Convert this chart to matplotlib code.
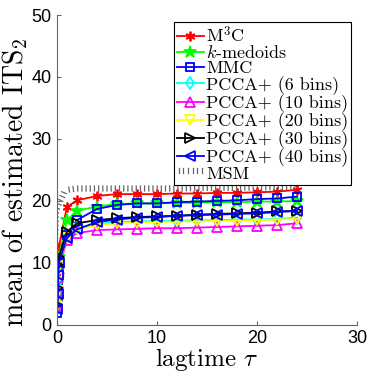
#!/usr/bin/env python3

"""
<file>    plot.py
<brief>   mean of estimated ITS_2 vs lagtime
"""

import matplotlib
matplotlib.use("Agg")
import matplotlib.pyplot as plt
import matplotlib.patheffects as pe

plt.rcParams['mathtext.fontset'] = 'cm'

lagtimes = [0.05, 0.1, 0.15, 0.2, 1, 2, 4, 6, 8, 10, 12, 14, 16, 18, 20, 22, 24]

m3c = [4.5, 8.0, 10.5, 12.6, 19.0, 20.1, 20.8, 21.1, 21.1, 21.1, 21.2, 21.2, 21.3, 21.3, 21.4, 21.5, 21.8]
kmedoids = [4.0, 7.5, 9.5, 11.0, 16.9, 18.4, 19.1, 19.5, 19.6, 19.6, 19.7, 19.7, 19.8, 19.8, 19.9, 19.9, 20.0]
mmc = [2.0, 4.5, 7.3, 9.5, 14.5, 16.9, 18.7, 19.35, 19.6, 19.6, 19.8, 19.9, 20.0, 20.1, 20.3, 20.4, 20.7]
pcca6 = [2.5, 5.0, 7.0, 9.0, 14.0, 15.6, 16.3, 16.6, 16.7, 16.8, 16.8, 16.9, 16.9, 17.0, 17.0, 17.1, 17.3]
pcca10 = [3.0, 5.5, 7.8, 9.0, 13.7, 14.8, 15.3, 15.4, 15.5, 15.6, 15.6, 15.7, 15.8, 15.9, 16.0, 16.1, 16.4]
pcca20 = [3.0, 5.5, 7.5, 9.5, 14.0, 15.4, 16.1, 16.4, 16.5, 16.6, 16.7, 16.7, 16.8, 16.8, 16.9, 17.0, 17.1]
pcca30 = [3.2, 6.0, 9.7, 11.0, 15.0, 16.4, 16.9, 17.2, 17.4, 17.5, 17.6, 17.8, 17.9, 18.0, 18.1, 18.3, 18.4]
pcca40 = [2.5, 5.0, 8.0, 10.0, 14.0, 15.4, 16.6, 17.0, 17.3, 17.4, 17.6, 17.7, 17.8, 17.9, 18.0, 18.2, 18.4]
msm = [13.0, 15.5, 17.5, 18.5, 21.4, 21.6, 21.6, 21.6, 21.6, 21.6, 21.6, 21.7, 21.7, 21.7, 21.8, 21.8, 21.9]

labels = ['M$^3$C', '$k$-medoids', 'MMC', 'PCCA+ (6 bins)', 'PCCA+ (10 bins)',
          'PCCA+ (20 bins)', 'PCCA+ (30 bins)', 'PCCA+ (40 bins)', 'MSM']

fig = plt.figure(figsize=(3.74, 3.8), dpi=100)
ax = fig.add_axes([0.152, 0.145, 0.803, 0.8155])

series = [m3c, kmedoids, mmc, pcca6, pcca10, pcca20, pcca30, pcca40]
colors = ['red', 'lime', 'blue', 'cyan', 'magenta', 'yellow', 'black', 'blue']
markers = [(6, 2, 0), '*', 's', 'd', '^', 'v', '>', '<']
sizes = [7, 9, 6, 6, 7, 7, 7, 7]
faces = ['red', 'lime', 'none', 'none', 'none', 'none', 'none', 'none']

for y, c, m, s, f, lab in zip(series, colors, markers, sizes, faces, labels):
    ax.plot(lagtimes, y, color=c, marker=m, markersize=s, markerfacecolor=f,
            markeredgecolor=c, markeredgewidth=1.3, linewidth=1.3, label=lab)

# MSM drawn as a hatched (ticked) line
ax.plot(lagtimes, msm, color='none', linewidth=1, label=labels[8],
        path_effects=[pe.withTickedStroke(angle=90, spacing=3, length=1.2,
                                          linewidth=0.9, foreground='0.4')])

ax.set_xlim(0, 30)
ax.set_ylim(0, 50)
ax.set_xticks([0, 10, 20, 30])
ax.set_yticks([0, 10, 20, 30, 40, 50])
ax.spines['top'].set_visible(False)
ax.spines['right'].set_visible(False)
for sp in ['left', 'bottom']:
    ax.spines[sp].set_color('0.4')
    ax.spines[sp].set_linewidth(0.8)
ax.tick_params(direction='in', length=3, color='0.4', labelsize=13, pad=4)
for t in ax.get_xticklabels() + ax.get_yticklabels():
    t.set_fontfamily('Liberation Sans')

ax.set_xlabel(r'lagtime $\tau$', fontsize=18, fontfamily='cmr10', labelpad=-1)
ax.set_ylabel(r'mean of estimated ITS$_2$', fontsize=20, fontfamily='cmr10')
ax.yaxis.set_label_coords(-0.09, 0.46)

leg = ax.legend(loc='upper right', bbox_to_anchor=(0.993, 0.99),
                prop={'family': 'cmr10', 'size': 13},
                frameon=True, fancybox=False, edgecolor='black', framealpha=1,
                handlelength=1.5, handletextpad=0.15, labelspacing=-0.03,
                borderpad=0.15, borderaxespad=0.2)
leg.get_frame().set_linewidth(0.8)

fig.savefig('out.png', dpi=100)
plt.close(fig)
